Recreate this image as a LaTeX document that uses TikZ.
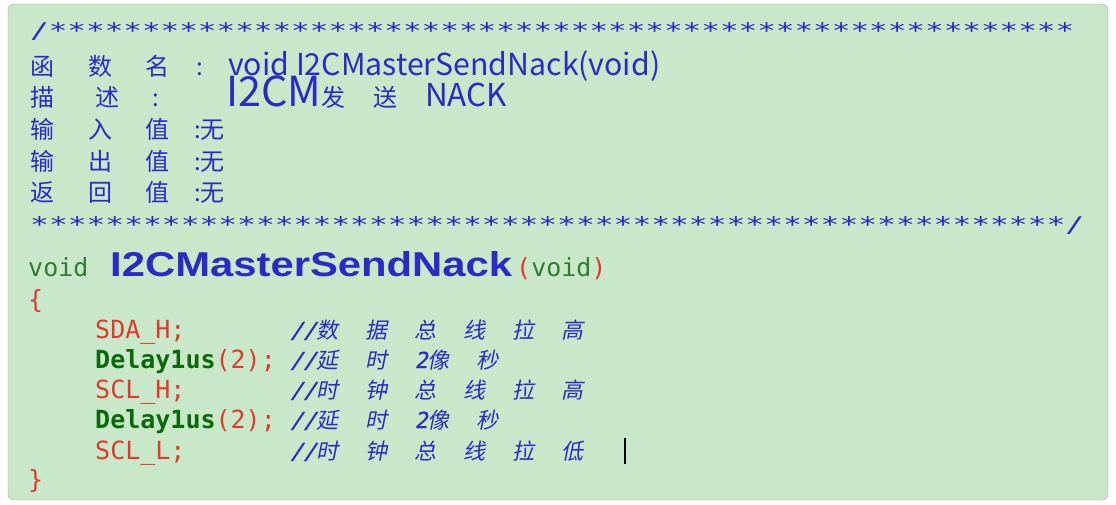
\documentclass[tikz,border=0pt]{standalone}
\usepackage{fontspec}
\setmainfont{Liberation Sans}
\newfontfamily\cjk{Noto Sans CJK SC}
\newfontfamily\cjki[FakeSlant=0.2]{Noto Sans CJK SC}
\newfontfamily\monof{DejaVu Sans Mono}
\newfontfamily\monoi[FakeSlant=0.2,FakeBold=1]{DejaVu Sans Mono}
\definecolor{bgc}{HTML}{C9E8C9}
\definecolor{bluet}{HTML}{2A2AC8}
\definecolor{greent}{HTML}{2E7D32}
\definecolor{dgreen}{HTML}{0A6A0A}
\definecolor{redt}{HTML}{E03A2A}
\begin{document}
\begin{tikzpicture}[x=1pt,y=-1pt,
  t/.style={anchor=base west,inner sep=0pt,text=bluet,font=\cjk\fontsize{24}{26}\selectfont},
  c/.style={anchor=base west,inner sep=0pt,font=\monof\fontsize{25}{27}\selectfont},
  cmt/.style={anchor=base west,inner sep=0pt,text=bluet,font=\cjki\fontsize{22}{24}\selectfont}]
\useasboundingbox (0,0) rectangle (1116,504);
\fill[white] (0,0) rectangle (1116,504);
\draw[gray!70,fill=bgc,rounded corners=6] (8,4) rectangle (1108,500);
% header
\node[c,text=bluet] (s1) at (30,38) {\resizebox{1044pt}{16pt}{/*******************************************************}};
\node[t] (a1) at (30,75) {函}; \node[t] (a2) at (88,75) {数}; \node[t] (a3) at (145,75) {名};
\node[t] (a4) at (196,75) {:}; \node[t] (a5) at (228,75) {\resizebox{432pt}{!}{void I2CMasterSendNack(void)}};
\node[t] (b1) at (30,106) {描}; \node[t] (b2) at (95,106) {述}; \node[t] (b3) at (152,106) {:};
\node[t] (b4) at (226,106) {\resizebox{95pt}{!}{I2CM}发\hspace{28pt}送\hspace{28pt}\resizebox{82pt}{!}{NACK}};
\node[t] (d1) at (30,138) {输}; \node[t] (d2) at (88,138) {入}; \node[t] (d3) at (145,138) {值}; \node[t] (d4) at (194,138) {:无};
\node[t] (e1) at (30,170) {输}; \node[t] (e2) at (88,170) {出}; \node[t] (e3) at (145,170) {值}; \node[t] (e4) at (194,170) {:无};
\node[t] (f1) at (30,201) {返}; \node[t] (f2) at (88,201) {回}; \node[t] (f3) at (145,201) {值}; \node[t] (f4) at (194,201) {:无};
\node[c,text=bluet] (s2) at (30,232) {\resizebox{1054pt}{16pt}{*******************************************************/}};
% code
\node[c,text=greent] (v1) at (28,276) {void};
\node[anchor=base west,inner sep=0pt,text=bluet,font=\bfseries\fontsize{33}{35}\selectfont] (fn) at (110,276) {\resizebox{402pt}{25pt}{I2CMasterSendNack}};
\node[c,text=greent] (v2) at (516,276) {\textcolor{redt}{(}void\textcolor{redt}{)}};
\node[c,text=redt] (ob) at (28,308) {\{};
\node[c,text=redt] (l1) at (95,338) {SDA\_H;};
\node[c,text=dgreen] (l2) at (95,368) {\textbf{Delay1us}\textcolor{redt}{(2);}};
\node[c,text=redt] (l3) at (95,398) {SCL\_H;};
\node[c,text=dgreen] (l4) at (95,428) {\textbf{Delay1us}\textcolor{redt}{(2);}};
\node[c,text=redt] (l5) at (95,459) {SCL\_L;};
\node[c,text=redt] (cb) at (28,488) {\}};
\node[cmt] (m1) at (290,338) {{\monoi //}数\hspace{27pt}据\hspace{27pt}总\hspace{27pt}线\hspace{27pt}拉\hspace{27pt}高};
\node[cmt] (m2) at (290,368) {{\monoi //}延\hspace{27pt}时\hspace{27pt}{\monoi 2}像\hspace{27pt}秒};
\node[cmt] (m3) at (290,398) {{\monoi //}时\hspace{27pt}钟\hspace{27pt}总\hspace{27pt}线\hspace{27pt}拉\hspace{27pt}高};
\node[cmt] (m4) at (290,428) {{\monoi //}延\hspace{27pt}时\hspace{27pt}{\monoi 2}像\hspace{27pt}秒};
\node[cmt] (m5) at (290,459) {{\monoi //}时\hspace{27pt}钟\hspace{27pt}总\hspace{27pt}线\hspace{27pt}拉\hspace{27pt}低};
\coordinate (k1) at (625,438); \coordinate (k2) at (625,464);
\draw[line width=2pt] (k1) -- (k2);
\end{tikzpicture}
\end{document}
